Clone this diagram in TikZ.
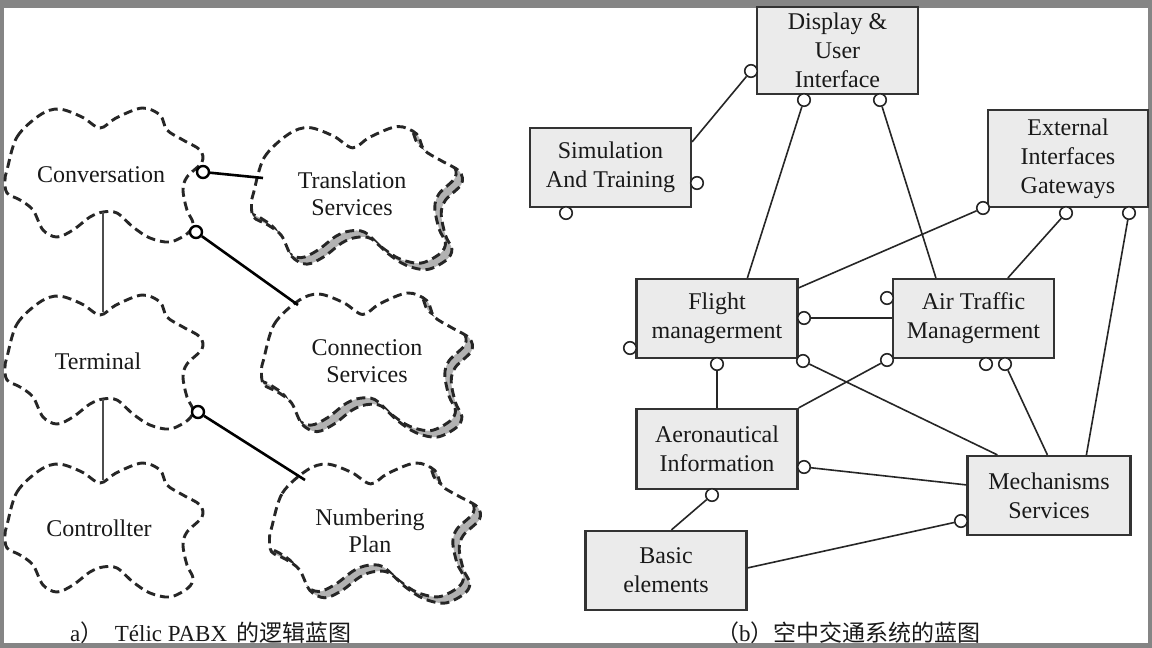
\documentclass[tikz,border=0pt]{standalone}
\usepackage{fontspec}
\setmainfont{Liberation Serif}
\newfontfamily\cjkfont{Noto Sans CJK SC}
\usetikzlibrary{calc}
\newcommand\cloudpath[1]{\path[#1] plot[smooth cycle, tension=0.55] coordinates {(-97,-5) (-87,-38) (-64,-60) (-45,-66) (-22,-58) (-4,-47) (12,-57) (38,-67) (56,-60) (63,-45) (79,-35) (96,-25) (98,-13) (83,2) (79,15) (83,35) (89,48) (84,58) (66,67) (46,63) (29,52) (13,38) (-1,37) (-14,42) (-31,55) (-47,62) (-61,55) (-71,35) (-84,25) (-97,18) (-99,5)};}
\newcommand\plaincloud[2]{%
  \begin{scope}[shift={(#1,#2)}]
    \cloudpath{draw, cloudline}
  \end{scope}}
\newcommand\shadecloud[4]{%
  \begin{scope}[shift={(#1,#2)}, xscale=#3, yscale=#4]
    \cloudpath{fill=black!30}
    \cloudpath{fill=white, shift={(-6,-6)}}
    \begin{scope}
      \cloudpath{clip}
      \cloudpath{draw, cloudline, shift={(-6,-6)}}
    \end{scope}
    \cloudpath{draw, cloudline}
  \end{scope}}
\begin{document}
\begin{tikzpicture}[x=1pt,y=-1pt,
  cloudline/.style={line width=2.9pt, dash pattern=on 9pt off 5pt, black!85},
  lbl/.style={font=\fontsize{24}{27}\selectfont, align=center, inner sep=0pt, text=black!90},
  box/.style={draw=black!80, line width=2.2pt, fill=black!8, rectangle, inner sep=0pt, align=center, font=\fontsize{24}{29}\selectfont, text=black!90},
  port/.style={circle, draw=black!85, fill=white, line width=1.6pt, minimum size=12.5pt, inner sep=0pt},
  lport/.style={circle, draw=black, fill=white, line width=2.4pt, minimum size=12pt, inner sep=0pt},
  wire/.style={line width=1.6pt, black!85},
  lwire/.style={line width=2.6pt, black},
  vwire/.style={line width=2.8pt, black!70},
  captext/.style={font=\fontsize{23}{27}\selectfont, inner sep=0pt, anchor=west, text=black!90}
]
\useasboundingbox (0,0) rectangle (1152,648);
\fill[white] (0,0) rectangle (1152,648);
% frame
\fill[black!48] (0,0) rectangle (1152,8);
\fill[black!48] (0,0) rectangle (4,648);
\fill[black!48] (1148,0) rectangle (1152,648);
\fill[black!48] (0,643) rectangle (1152,648);

% ---------- left: clouds ----------
\plaincloud{104}{175}
\plaincloud{104}{362}
\plaincloud{104}{530}
\shadecloud{357}{198}{1.066}{1.067}
\shadecloud{367}{365}{1.066}{1.075}
\shadecloud{375}{533}{1.066}{1.045}

\node[lbl] (conv) at (101,175) {Conversation};
\node[lbl] (trans) at (352,194) {Translation\\Services};
\node[lbl] (term) at (98,361) {Terminal};
\node[lbl] (conn) at (367,361) {Connection\\Services};
\node[lbl] (ctrl) at (99,528) {Controllter};
\node[lbl] (numb) at (370,531) {Numbering\\Plan};

\coordinate (trAt) at (263,178);
\coordinate (cnAt) at (298,305);
\coordinate (nmAt) at (305,480);
\coordinate (convB) at (103,212);
\coordinate (termT) at (103,312);
\coordinate (termB) at (103,399);
\coordinate (ctrlT) at (103,480);

\draw[vwire] (convB) -- (termT);
\draw[vwire] (termB) -- (ctrlT);

\node[lport] (lc1) at (203,172) {};
\node[lport] (lc2) at (196,232) {};
\node[lport] (lc3) at (198,412) {};
\draw[lwire] (lc1) -- (trAt);
\draw[lwire] (lc2) -- (cnAt);
\draw[lwire] (lc3) -- (nmAt);

% ---------- right: boxes ----------
\node[box, minimum width=161pt, minimum height=87pt] (disp) at (837.5,50.5) {Display \&\\User\\Interface};
\node[box, minimum width=161pt, minimum height=79pt] (sim) at (610.5,167.5) {Simulation\\And Training};
\node[box, minimum width=160pt, minimum height=97pt] (ext) at (1068,158.5) {External\\Interfaces\\Gateways};
\node[box, minimum width=161pt, minimum height=79pt] (flt) at (717,318.5) {Flight\\managerment};
\node[box, minimum width=161pt, minimum height=79pt] (atm) at (973.5,318.5) {Air Traffic\\Managerment};
\node[box, minimum width=161pt, minimum height=80pt] (aer) at (717,449) {Aeronautical\\Information};
\node[box, minimum width=163pt, minimum height=79pt] (mech) at (1049,495.5) {Mechanisms\\Services};
\node[box, minimum width=161pt, minimum height=79pt] (bas) at (666,570.5) {Basic\\elements};

% ports
\node[port] (cD1) at (751,71) {};
\node[port] (cD2) at (804,100) {};
\node[port] (cD3) at (880,100) {};
\node[port] (cS1) at (697,183) {};
\node[port] (cS2) at (566,213) {};
\node[port] (cE1) at (983,208) {};
\node[port] (cE2) at (1066,213) {};
\node[port] (cE3) at (1129,213) {};
\node[port] (cF1) at (804,318) {};
\node[port] (cF2) at (803,361) {};
\node[port] (cF3) at (717,364) {};
\node[port] (cF4) at (630,348) {};
\node[port] (cA1) at (887,360) {};
\node[port] (cA2) at (887,298) {};
\node[port] (cA3) at (1005,364) {};
\node[port] (cA4) at (986,364) {};
\node[port] (cR1) at (804,467) {};
\node[port] (cR2) at (712,495) {};
\node[port] (cM1) at (961,521) {};

% connectors
\draw[wire] (cD1) -- ($(sim.north east)+(0,15)$);
\draw[wire] (cD2) -- ($(flt.north west)+(112,0)$);
\draw[wire] (cD3) -- ($(atm.north west)+(44,0)$);
\draw[wire] (cE1) -- ($(flt.north east)+(0,10)$);
\draw[wire] (cE2) -- ($(atm.north west)+(116,0)$);
\draw[wire] (cE3) -- ($(mech.north west)+(120,0)$);
\draw[wire] (cF1) -- (cF1 -| atm.west);
\draw[wire] (cF2) -- ($(mech.north west)+(31,0)$);
\draw[wire] (cF3) -- (cF3 |- aer.north);
\draw[wire] (cA1) -- (aer.north east);
\draw[wire] (cA3) -- ($(mech.north west)+(81,0)$);
\draw[wire] (cR1) -- ($(mech.north west)+(0,30)$);
\draw[wire] (cR2) -- ($(bas.north west)+(87,0)$);
\draw[wire] (cM1) -- ($(bas.north east)+(0,38)$);

% captions
\node[captext] (capa) at (70,633) {a{\cjkfont ）}\hspace{0.5em}Télic PABX\hspace{0.4em}{\cjkfont 的逻辑蓝图}};
\node[captext] (capb) at (716,633) {{\cjkfont （}b{\cjkfont ）空中交通系统的蓝图}};
\end{tikzpicture}
\end{document}
